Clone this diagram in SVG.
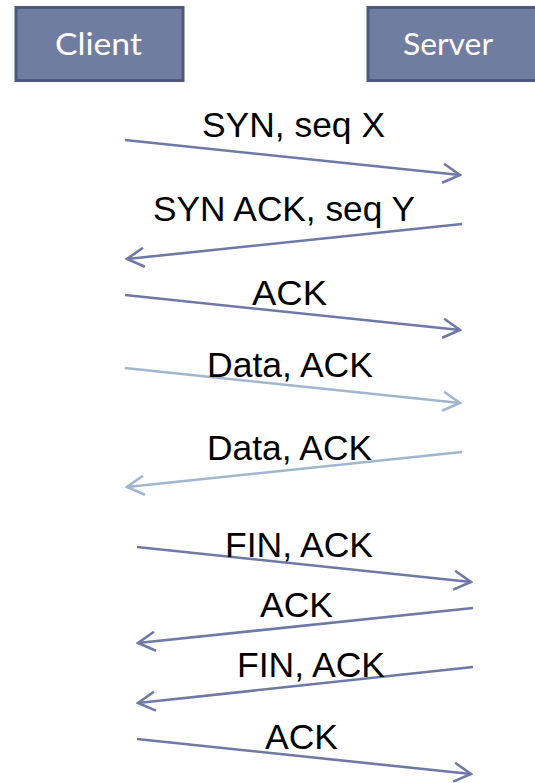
<svg xmlns="http://www.w3.org/2000/svg" width="535" height="783" viewBox="0 0 535 783">
<style>
.box{fill:#717ca1;stroke:#4f5878;stroke-width:3}
.btxt{fill:#ffffff;font-family:Lato,"Open Sans","DejaVu Sans",sans-serif;font-size:31px;text-anchor:middle}
.msg{stroke-width:2.6;fill:none}
.dark{stroke:#6e79a6}
.light{stroke:#a0b6cf}
.lbl{fill:#000000;font-family:"Liberation Sans",Arial,sans-serif;font-size:35px;text-anchor:middle}
</style>
<defs>
<marker id="ad" markerUnits="userSpaceOnUse" viewBox="-20 -12 22 24" markerWidth="22" markerHeight="24" refX="0" refY="0" orient="auto">
<path d="M-17,-9.5 L0,0 L-17,9.5" fill="none" stroke="#6e79a6" stroke-width="2.6"/>
</marker>
<marker id="al" markerUnits="userSpaceOnUse" viewBox="-20 -12 22 24" markerWidth="22" markerHeight="24" refX="0" refY="0" orient="auto">
<path d="M-17,-9.5 L0,0 L-17,9.5" fill="none" stroke="#a0b6cf" stroke-width="2.6"/>
</marker>
</defs>
<g id="client">
<rect class="box" x="16" y="7.5" width="167" height="73"/>
<text class="btxt" x="98.5" y="55" textLength="87" lengthAdjust="spacingAndGlyphs">Client</text>
</g>
<g id="server">
<rect class="box" x="368" y="7.5" width="180" height="73"/>
<text class="btxt" x="448" y="55" textLength="90" lengthAdjust="spacingAndGlyphs">Server</text>
</g>
<g id="connectors">
<line class="msg dark" x1="125" y1="140" x2="460" y2="175" marker-end="url(#ad)"/>
<line class="msg dark" x1="462" y1="224" x2="127" y2="259" marker-end="url(#ad)"/>
<line class="msg dark" x1="125" y1="295" x2="460" y2="330" marker-end="url(#ad)"/>
<line class="msg light" x1="125" y1="368" x2="460" y2="403" marker-end="url(#al)"/>
<line class="msg light" x1="462" y1="452" x2="127" y2="487" marker-end="url(#al)"/>
<line class="msg dark" x1="137" y1="547" x2="471" y2="582" marker-end="url(#ad)"/>
<line class="msg dark" x1="473" y1="608" x2="138" y2="643" marker-end="url(#ad)"/>
<line class="msg dark" x1="473" y1="667" x2="138" y2="703" marker-end="url(#ad)"/>
<line class="msg dark" x1="137" y1="739" x2="471" y2="774" marker-end="url(#ad)"/>
</g>
<g id="labels">
<text class="lbl" x="293.5" y="137" textLength="183" lengthAdjust="spacingAndGlyphs">SYN, seq X</text>
<text class="lbl" x="284" y="221" textLength="262" lengthAdjust="spacingAndGlyphs">SYN ACK, seq Y</text>
<text class="lbl" x="289.5" y="305" textLength="75" lengthAdjust="spacingAndGlyphs">ACK</text>
<text class="lbl" x="290" y="377" textLength="166" lengthAdjust="spacingAndGlyphs">Data, ACK</text>
<text class="lbl" x="289.5" y="460" textLength="165" lengthAdjust="spacingAndGlyphs">Data, ACK</text>
<text class="lbl" x="299" y="557" textLength="148" lengthAdjust="spacingAndGlyphs">FIN, ACK</text>
<text class="lbl" x="296.5" y="617" textLength="73" lengthAdjust="spacingAndGlyphs">ACK</text>
<text class="lbl" x="311" y="677" textLength="148" lengthAdjust="spacingAndGlyphs">FIN, ACK</text>
<text class="lbl" x="301.5" y="749" textLength="73" lengthAdjust="spacingAndGlyphs">ACK</text>
</g>
</svg>
